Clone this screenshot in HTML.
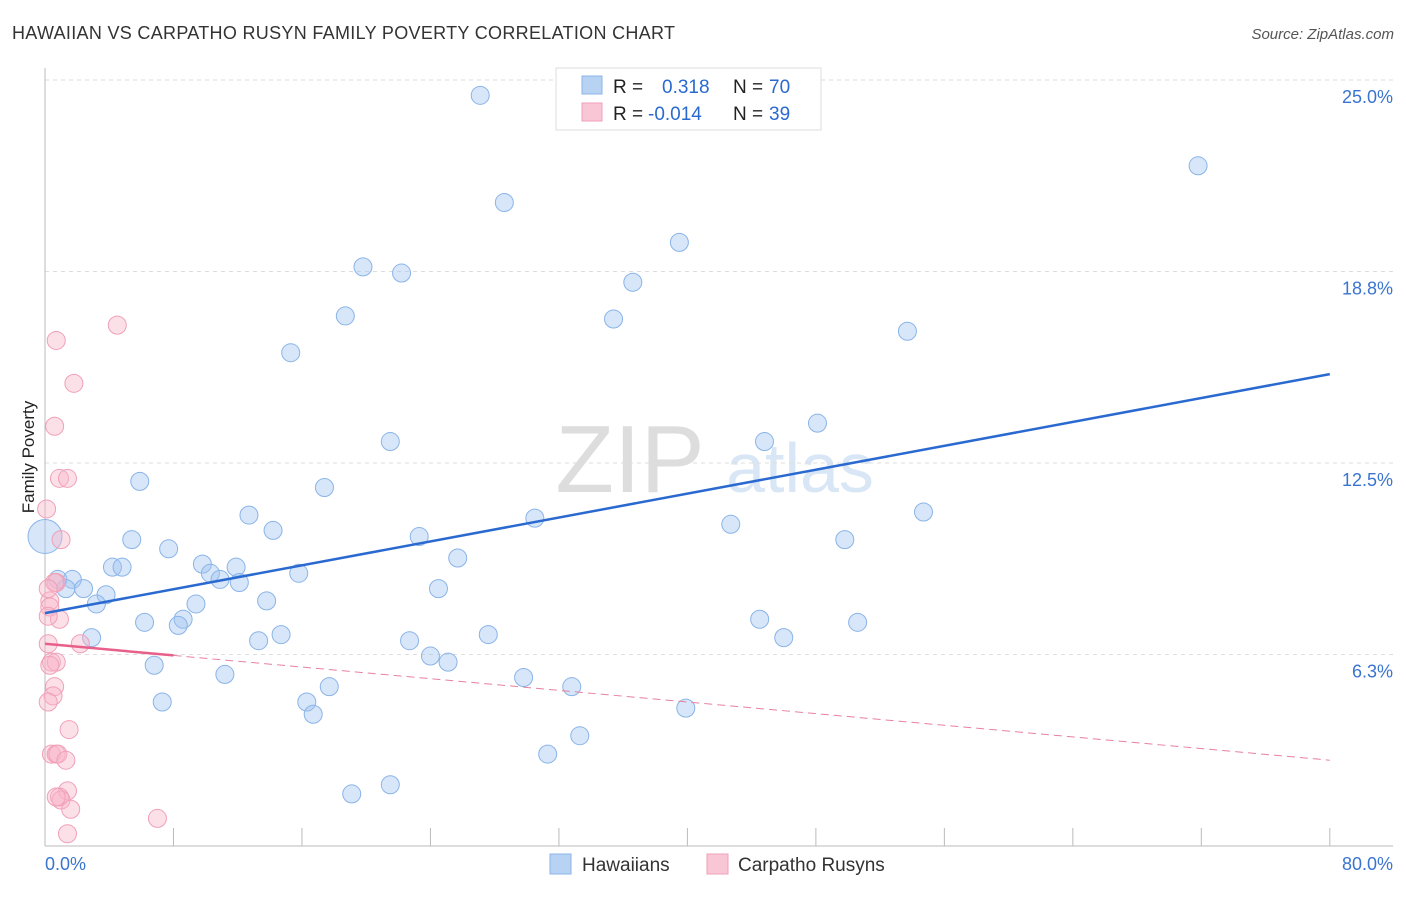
<!DOCTYPE html>
<html><head><meta charset="utf-8"><style>
body{margin:0;background:#fff;font-family:"Liberation Sans",sans-serif}
svg text{font-family:"Liberation Sans",sans-serif}
</style></head><body>
<svg id="c" width="1406" height="892">
<text x="12" y="39" font-size="18" fill="#333" textLength="663" lengthAdjust="spacing">HAWAIIAN VS CARPATHO RUSYN FAMILY POVERTY CORRELATION CHART</text>
<text x="1394" y="39" font-size="15" fill="#555" text-anchor="end" font-style="italic">Source: ZipAtlas.com</text>
<text x="630" y="492" font-size="96" fill="#ddd" text-anchor="middle" font-family="Liberation Serif">ZIP</text>
<text x="800" y="492" font-size="70" fill="#d8e6f6" text-anchor="middle">atlas</text>
<g id="grid"></g><g id="axes"></g><g id="pts"></g><g id="trend"></g>
<text x="34" y="457" font-size="17" fill="#222" text-anchor="middle" transform="rotate(-90 34 457)">Family Poverty</text>
<g>
<rect x="556" y="68" width="265" height="62" fill="#fff" stroke="#ddd"/>
<rect x="582" y="76" width="20" height="18" fill="#b8d2f4" stroke="#8ab4e8"/>
<rect x="582" y="103" width="20" height="18" fill="#f8c6d4" stroke="#f0a0b8"/>
<text x="613" y="93" font-size="19" fill="#222">R =</text>
<text x="662" y="93" font-size="19" fill="#2a6ad0">0.318</text>
<text x="733" y="93" font-size="19" fill="#222">N =</text>
<text x="769" y="93" font-size="19" fill="#2a6ad0">70</text>
<text x="613" y="120" font-size="19" fill="#222">R =</text>
<text x="648" y="120" font-size="19" fill="#2a6ad0">-0.014</text>
<text x="733" y="120" font-size="19" fill="#222">N =</text>
<text x="769" y="120" font-size="19" fill="#2a6ad0">39</text>
</g>
<g>
<rect x="550" y="854" width="21" height="20" fill="#b8d2f4" stroke="#8ab4e8"/>
<text x="582" y="871" font-size="19" fill="#333">Hawaiians</text>
<rect x="707" y="854" width="21" height="20" fill="#f8c6d4" stroke="#f0a0b8"/>
<text x="738" y="871" font-size="19" fill="#333">Carpatho Rusyns</text>
</g>
</svg>
<script>
const yTicks=[6.25,12.5,18.75,25];
const yTickLabels=["6.3%","12.5%","18.8%","25.0%"];
const xTicks=[0,8,16,24,32,40,48,56,64,72,80];
const blueX=[27.1,71.8,28.6,39.5,19.8,22.2,36.6,18.7,35.4,53.7,15.3,48.1,44.8,21.5,5.9,17.4,12.7,30.5,54.7,42.7,14.2,23.3,5.4,49.8,7.7,25.7,4.2,4.8,9.8,11.9,10.3,15.8,10.9,12.1,0.8,1.7,1.3,2.4,24.5,3.8,3.2,9.4,13.8,6.2,8.6,8.3,44.5,50.6,2.9,14.7,13.3,27.6,46.0,22.7,24.0,25.1,6.8,11.2,29.8,17.7,32.8,7.3,16.3,39.9,16.7,33.3,31.3,21.5,19.1];
const blueY=[24.5,22.2,21.0,19.7,18.9,18.7,18.4,17.3,17.2,16.8,16.1,13.8,13.2,13.2,11.9,11.7,10.8,10.7,10.9,10.5,10.3,10.1,10.0,10.0,9.7,9.4,9.1,9.1,9.2,9.1,8.9,8.9,8.7,8.6,8.7,8.7,8.4,8.4,8.4,8.2,7.9,7.9,8.0,7.3,7.4,7.2,7.4,7.3,6.8,6.9,6.7,6.9,6.8,6.7,6.2,6.0,5.9,5.6,5.5,5.2,5.2,4.7,4.7,4.5,4.3,3.6,3.0,2.0,1.7];
const bigX=[0],bigY=[10.1];
const pinkX=[4.5,0.7,1.8,0.6,0.9,1.4,0.1,1.0,0.7,0.3,0.3,0.9,0.2,0.2,2.2,0.4,0.7,0.3,0.6,0.5,0.2,1.5,0.4,0.7,0.8,1.3,1.4,0.9,1.0,1.6,0.7,1.4,7.0,0.6,0.2];
const pinkY=[17.0,16.5,15.1,13.7,12.0,12.0,11.0,10.0,8.6,8.0,7.8,7.4,7.5,6.6,6.6,6.0,6.0,5.9,5.2,4.9,4.7,3.8,3.0,3.0,3.0,2.8,1.8,1.6,1.5,1.2,1.6,0.4,0.9,8.6,8.4];
const blueTrend=[7.6,15.4];
const pinkTrend=[6.6,2.8];
const pinkSolidEnd=8;
const sx=v=>45+v*16.06, sy=v=>846-v*30.64;
const NS="http://www.w3.org/2000/svg";
function mk(p,t,a){const e=document.createElementNS(NS,t);for(const k in a)e.setAttribute(k,a[k]);document.getElementById(p).appendChild(e);return e;}
yTicks.forEach((t,i)=>{
 const l=mk('grid','line',{x1:45,x2:1393,y1:sy(t),y2:sy(t),stroke:'#ddd','stroke-dasharray':'4,4'});
 
 
 const tx=mk('grid','text',{x:1393,y:sy(t)+23,'font-size':18,fill:'#3a74d0','text-anchor':'end'});
 tx.textContent=yTickLabels[i];
 
 
});
let a=mk('axes','line',{x1:45,x2:45,y1:68,y2:846,stroke:'#bbb'});


a=mk('axes','line',{x1:45,x2:1393,y1:846,y2:846,stroke:'#bbb'});


xTicks.slice(1).forEach(t=>{const l=mk('axes','line',{x1:sx(t),x2:sx(t),y1:828,y2:846,stroke:'#bbb'});
 
 });
let t0=mk('axes','text',{x:45,y:870,'font-size':18,fill:'#3a74d0'});t0.textContent="0.0%";


t0=mk('axes','text',{x:1393,y:870,'font-size':18,fill:'#3a74d0','text-anchor':'end'});t0.textContent="80.0%";


function dots(X,Y,r,fill,st,name){X.forEach((x,i)=>{const c=mk('pts','circle',{cx:sx(x),cy:sy(Y[i]),r:r,fill:fill,stroke:st,'stroke-width':1});
 
 });}
dots(blueX,blueY,9,'rgba(160,196,240,0.42)','#8ab4e8','hawaiian-point');
dots(bigX,bigY,17,'rgba(160,196,240,0.42)','#8ab4e8','hawaiian-point');
dots(pinkX,pinkY,9,'rgba(248,180,200,0.42)','#f0a0b8','carpatho-rusyn-point');
let tl=mk('trend','line',{x1:sx(0),y1:sy(blueTrend[0]),x2:sx(80),y2:sy(blueTrend[1]),stroke:'#2a6ad0','stroke-width':2.5});


const pm=pinkTrend[0]+(pinkTrend[1]-pinkTrend[0])*pinkSolidEnd/80;
tl=mk('trend','line',{x1:sx(0),y1:sy(pinkTrend[0]),x2:sx(pinkSolidEnd),y2:sy(pm),stroke:'#e8608a','stroke-width':2.5});


tl=mk('trend','line',{x1:sx(pinkSolidEnd),y1:sy(pm),x2:sx(80),y2:sy(pinkTrend[1]),stroke:'#e8809e','stroke-width':1,'stroke-dasharray':'8,5'});


</script>
</body></html>
